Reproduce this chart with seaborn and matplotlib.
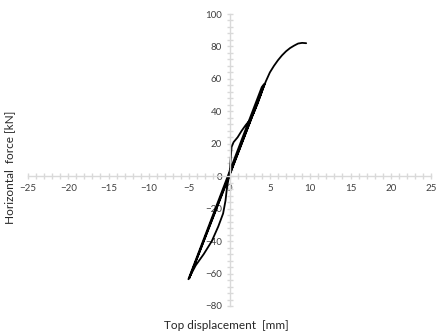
import matplotlib
matplotlib.use("Agg")
import matplotlib.pyplot as plt
import seaborn as sns
import pandas as pd
from matplotlib.ticker import MultipleLocator

# hysteresis path: top displacement [mm] vs horizontal force [kN]
displacement = [0.0, 0.1, 0.25, 0.5, 1.0, 1.5, 2.0, 2.5, 3.0, 3.5, 4.0, 4.25,
                4.0, -5.1,
                -4.2, -3.2, -2.2, -1.4, -0.8, -0.5, -0.3, 0.0,
                4.35, -5.0,
                0.0, 4.5, 5.0, 5.5, 6.0, 6.5, 7.0, 7.5, 8.0, 8.5, 9.0, 9.5]
force = [0.0, 8.0, 18.0, 21.0, 24.0, 28.0, 31.5, 34.5, 39.0, 45.0, 52.0, 56.5,
         55.0, -63.5,
         -55.0, -48.0, -40.0, -31.0, -23.0, -15.0, -6.0, 1.0,
         57.0, -63.0,
         0.5, 58.5, 64.0, 68.0, 71.5, 74.5, 77.0, 79.0, 80.5, 81.8, 82.2, 82.0]

df = pd.DataFrame({"disp": displacement, "force": force})

sns.set_style("white")
plt.rcParams["font.family"] = ["Lato", "DejaVu Sans"]

fig = plt.figure(figsize=(4.36, 3.35), dpi=100)
ax = fig.add_axes([0.064, 0.0866, 0.925, 0.8716])

sns.lineplot(data=df, x="disp", y="force", sort=False, estimator=None,
             color="black", linewidth=1.3, ax=ax)

ax.set_xlim(-25, 25)
ax.set_ylim(-80, 100)
ax.set_xlabel("")
ax.set_ylabel("")

# Excel-style axes crossing at the origin
grey = "#d9d9d9"
ax.spines["left"].set_position(("data", 0))
ax.spines["bottom"].set_position(("data", 0))
ax.spines["right"].set_visible(False)
ax.spines["top"].set_visible(False)
for s in ("left", "bottom"):
    ax.spines[s].set_color(grey)
    ax.spines[s].set_linewidth(1.0)

ax.xaxis.set_major_locator(MultipleLocator(5))
ax.xaxis.set_minor_locator(MultipleLocator(1))
ax.yaxis.set_major_locator(MultipleLocator(20))
ax.yaxis.set_minor_locator(MultipleLocator(4))
ax.tick_params(which="both", direction="inout", color=grey, width=1.0,
               labelsize=7, labelcolor="#404040")
ax.tick_params(which="major", length=5)
ax.tick_params(which="minor", length=4)
ax.tick_params(axis="x", pad=3)
ax.tick_params(axis="y", pad=3)
ax.xaxis.set_ticks_position("bottom")
ax.yaxis.set_ticks_position("left")

fig.text(0.52, 0.028, "Top displacement  [mm]", ha="center", va="center",
         fontsize=8.5)
fig.text(0.023, 0.5, "Horizontal  force [kN]", ha="center", va="center",
         rotation=90, fontsize=8.5)

fig.savefig("out.png", dpi=100)
